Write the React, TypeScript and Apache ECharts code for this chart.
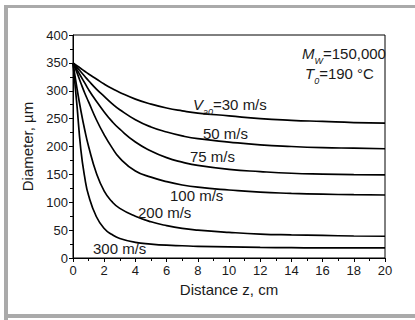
import React, { useEffect, useRef } from "react";
import * as echarts from "echarts";

const zValues = [0, 0.25, 0.5, 0.75, 1, 1.5, 2, 2.5, 3, 4, 5, 6, 7, 8, 10, 12, 14, 16, 18, 20];
const d30 = [350, 345, 340, 335, 330, 321, 312, 304, 297, 285, 276, 269, 264, 260, 255, 250, 247, 245, 243, 242];
const d50 = [350, 342, 334, 326, 318, 303, 290, 277, 266, 248, 235, 226, 219, 214, 208, 203, 200, 198, 197, 196];
const d75 = [350, 338, 326, 314, 302, 281, 262, 245, 231, 208, 192, 180, 172, 166, 159, 155, 152, 150.5, 149.5, 149];
const d100 = [350, 333, 314, 296, 280, 248, 221, 198, 179, 156, 145, 137, 131, 127, 122, 118, 116, 114.5, 113.5, 113];
const d200 = [350, 305, 265, 230, 200, 152, 120, 101, 89, 75, 65, 58, 53, 50, 46, 43, 41.5, 40.5, 39.5, 39];
const d300 = [350, 275, 195, 145, 112, 74, 53, 42, 35, 28, 25, 23, 22, 21, 20, 19, 18.5, 18, 18, 18];
const seriesNames = ["30 m/s", "50 m/s", "75 m/s", "100 m/s", "200 m/s", "300 m/s"];
const seriesData = [d30, d50, d75, d100, d200, d300];

const FONT = "'Liberation Sans', Arial, sans-serif";
const TXT = "#1a1a1a";

export default function App() {
  const ref = useRef<HTMLDivElement>(null);
  useEffect(() => {
    document.body.style.margin = "0";
    const chart = echarts.init(ref.current!, null, { renderer: "svg" });
    const labelStyle = (text: string, x: number, y: number, rich?: any) => ({
      type: "text",
      x,
      y,
      style: {
        text,
        fontFamily: FONT,
        fontSize: 15,
        fill: TXT,
        verticalAlign: "middle",
        rich,
      },
      z: 10,
    });
    const subRich = {
      i: { fontStyle: "italic", fontSize: 15, fontFamily: FONT, fill: TXT, lineHeight: 18 },
      s: { fontStyle: "italic", fontSize: 9, fontFamily: FONT, fill: TXT, verticalAlign: "bottom", lineHeight: 24 },
      n: { fontSize: 15, fontFamily: FONT, fill: TXT, lineHeight: 18 },
    };
    chart.setOption({
      animation: false,
      backgroundColor: "#fff",
      grid: {
        left: 73,
        right: 30,
        top: 35,
        bottom: 62,
        show: true,
        borderColor: "#000",
        borderWidth: 1,
      },
      xAxis: {
        type: "value",
        min: 0,
        max: 20,
        interval: 2,
        name: "Distance z, cm",
        nameLocation: "middle",
        nameGap: 19,
        nameTextStyle: { fontFamily: FONT, fontSize: 15, color: TXT },
        axisLine: { lineStyle: { color: "#000", width: 1 } },
        axisTick: { show: true, inside: false, length: 4, lineStyle: { color: "#000" } },
        minorTick: { show: true, splitNumber: 2, length: 3, lineStyle: { color: "#000" } },
        splitLine: { show: false },
        axisLabel: { fontFamily: FONT, fontSize: 13, color: TXT, margin: 6 },
      },
      yAxis: {
        type: "value",
        min: 0,
        max: 400,
        interval: 50,
        name: "Diameter, \u00b5m",
        nameLocation: "middle",
        nameGap: 29,
        nameTextStyle: { fontFamily: FONT, fontSize: 15, color: TXT },
        axisLine: { show: true, lineStyle: { color: "#000", width: 1 } },
        axisTick: { show: true, inside: false, length: 4, lineStyle: { color: "#000" } },
        minorTick: { show: true, splitNumber: 2, length: 3, lineStyle: { color: "#000" } },
        splitLine: { show: false },
        axisLabel: { fontFamily: FONT, fontSize: 13, color: TXT, margin: 5 },
      },
      series: seriesData.map((d, k) => ({
        name: seriesNames[k],
        type: "line",
        data: zValues.map((z, i) => [z, d[i]]),
        smooth: 0.5,
        showSymbol: false,
        lineStyle: { color: "#000", width: 1.7 },
      })),
      graphic: [
        { type: "rect", shape: { x: 4, y: 5, width: 411, height: 3 }, style: { fill: "#aaaaaa" } },
        { type: "rect", shape: { x: 4, y: 5, width: 4, height: 315 }, style: { fill: "#aaaaaa" } },
        { type: "rect", shape: { x: 4, y: 314, width: 411, height: 4 }, style: { fill: "#aaaaaa" } },
        labelStyle("{i|V}{s|a0}{n|=30 m/s}", 193, 104, subRich),
        labelStyle("50 m/s", 203, 133),
        labelStyle("75 m/s", 190, 156),
        labelStyle("100 m/s", 170, 195),
        labelStyle("200 m/s", 138, 212),
        labelStyle("300 m/s", 93, 248),
        labelStyle("{i|M}{s|W}{n|=150,000}", 302, 53, subRich),
        labelStyle("{i|T}{s|0}{n|=190 \u00b0C}", 305, 73, subRich),
      ],
    });
    return () => chart.dispose();
  }, []);
  return <div ref={ref} style={{ width: 415, height: 320 }} />;
}
